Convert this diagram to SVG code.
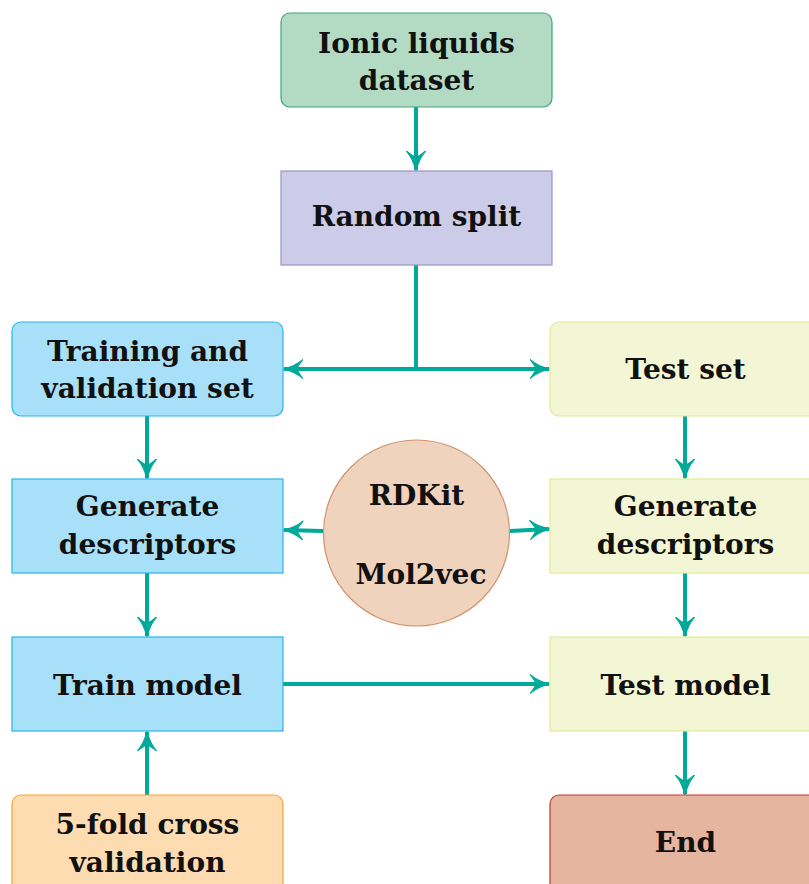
<svg xmlns="http://www.w3.org/2000/svg" width="809" height="884" viewBox="0 0 809 884">
<defs>
<style>
.t{font-family:"DejaVu Serif","Liberation Serif",serif;font-weight:bold;font-size:28px;fill:#111;text-anchor:middle}
.c{stroke:#00a99a;stroke-width:4;fill:none}
.green{fill:#b3dbc4;stroke:#3ba872;stroke-width:1.2}
.purple{fill:#cdcce8;stroke:#9b92c9;stroke-width:1.2}
.blue{fill:#a9e0f9;stroke:#29b4e8;stroke-width:1.2}
.yellow{fill:#f3f6d4;stroke:#e1ea94;stroke-width:1.2}
.orange{fill:#fddcb2;stroke:#f4a62a;stroke-width:1.2}
.red{fill:#e6b5a0;stroke:#c0392b;stroke-width:1.2}
.circ{fill:#f0d3bd;stroke:#d1916b;stroke-width:1.2}
</style>
<marker id="ah" viewBox="0 0 16 16" refX="15.5" refY="8" markerWidth="20" markerHeight="20" markerUnits="userSpaceOnUse" orient="auto">
<path d="M0.5,0.5 C5,4.5 10,6.5 16,8 C10,9.5 5,11.5 0.5,15.5 C3,12 5,10 5,8 C5,6 3,4 0.5,0.5 z" fill="#00a99a" stroke="#00a99a" stroke-width="1" stroke-linejoin="round"/>
</marker>
</defs>
<g id="connectors">
<line class="c" x1="416" y1="107" x2="416" y2="170" marker-end="url(#ah)"/>
<line class="c" x1="416" y1="265" x2="416" y2="369"/>
<line class="c" x1="416" y1="369" x2="284" y2="369" marker-end="url(#ah)"/>
<line class="c" x1="416" y1="369" x2="549" y2="369" marker-end="url(#ah)"/>
<line class="c" x1="147" y1="416" x2="147" y2="478" marker-end="url(#ah)"/>
<line class="c" x1="685" y1="416" x2="685" y2="478" marker-end="url(#ah)"/>
<line class="c" x1="323" y1="531" x2="284" y2="530" marker-end="url(#ah)"/>
<line class="c" x1="510" y1="531" x2="549" y2="529" marker-end="url(#ah)"/>
<line class="c" x1="147" y1="573" x2="147" y2="636" marker-end="url(#ah)"/>
<line class="c" x1="685" y1="573" x2="685" y2="636" marker-end="url(#ah)"/>
<line class="c" x1="283" y1="684" x2="549" y2="684" marker-end="url(#ah)"/>
<line class="c" x1="147" y1="795" x2="147" y2="732" marker-end="url(#ah)"/>
<line class="c" x1="685" y1="731" x2="685" y2="794" marker-end="url(#ah)"/>
</g>
<g id="ionic">
<rect class="green" x="281" y="13" width="271" height="94" rx="9"/>
<text class="t" x="416.5" y="53">Ionic liquids</text>
<text class="t" x="416.5" y="90">dataset</text>
</g>
<g id="split">
<rect class="purple" x="281" y="171" width="271" height="94"/>
<text class="t" x="416.5" y="226">Random split</text>
</g>
<g id="train_set">
<rect class="blue" x="12" y="322" width="271" height="94" rx="9"/>
<text class="t" x="147.5" y="361">Training and</text>
<text class="t" x="147.5" y="398">validation set</text>
</g>
<g id="test_set">
<rect class="yellow" x="550" y="322" width="271" height="94" rx="9"/>
<text class="t" x="685.5" y="379">Test set</text>
</g>
<g id="gen_left">
<rect class="blue" x="12" y="479" width="271" height="94"/>
<text class="t" x="147.5" y="516">Generate</text>
<text class="t" x="147.5" y="554">descriptors</text>
</g>
<g id="rdkit">
<circle class="circ" cx="416.5" cy="533" r="93"/>
<text class="t" x="416.5" y="505">RDKit</text>
<text class="t" x="421" y="584">Mol2vec</text>
</g>
<g id="gen_right">
<rect class="yellow" x="550" y="479" width="271" height="94"/>
<text class="t" x="685.5" y="516">Generate</text>
<text class="t" x="685.5" y="554">descriptors</text>
</g>
<g id="train_model">
<rect class="blue" x="12" y="637" width="271" height="94"/>
<text class="t" x="147.5" y="695">Train model</text>
</g>
<g id="test_model">
<rect class="yellow" x="550" y="637" width="271" height="94"/>
<text class="t" x="685.5" y="695">Test model</text>
</g>
<g id="cv">
<rect class="orange" x="12" y="795" width="271" height="100" rx="9"/>
<text class="t" x="147.5" y="834">5-fold cross</text>
<text class="t" x="147.5" y="872">validation</text>
</g>
<g id="end">
<rect class="red" x="550" y="795" width="271" height="100" rx="9"/>
<text class="t" x="685.5" y="852">End</text>
</g>
</svg>
